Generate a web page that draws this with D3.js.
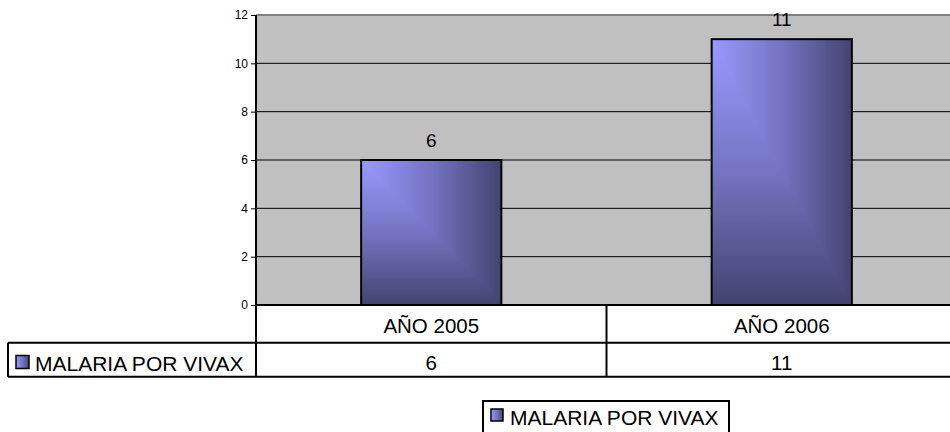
<!DOCTYPE html>
<html>
<head>
<meta charset="utf-8">
<script src="https://cdn.jsdelivr.net/npm/d3@7"></script>
<style>
  body { margin: 0; background: #fff; }
  svg { display: block; font-family: Arial, "Liberation Sans", sans-serif; }
</style>
</head>
<body>
<div id="chart"></div>
<script>
let categories = ["AÑO 2005", "AÑO 2006"];
let seriesName = "MALARIA POR VIVAX";
let values = [6, 11];
let yTicks = [0, 2, 4, 6, 8, 10, 12];

let W = 950, H = 432;
let plotLeft = 256, plotRight = 957, plotTop = 15, plotBottom = 305;
let row1 = 342.7, row2 = 376.7, tableLeft = 8;

let svg = d3.select("#chart")
  .append("svg")
    .attr("width", W)
    .attr("height", H);

// gradients, light corner top-left
let defs = svg.append("defs");
let stops = [[0, "#9999ff"], [0.5, "#7474c2"], [1, "#434370"]];
let gh = defs.append("linearGradient").attr("id", "gh")
    .attr("x1", 0).attr("y1", 0).attr("x2", 1).attr("y2", 0);
let gv = defs.append("linearGradient").attr("id", "gv")
    .attr("x1", 0).attr("y1", 0).attr("x2", 0).attr("y2", 1);
[gh, gv].forEach(function(g) {
    stops.forEach(function(s) {
        g.append("stop").attr("offset", s[0]).attr("stop-color", s[1]);
    });
});

let x = d3.scaleBand()
    .domain(categories)
    .range([plotLeft, plotRight])
    .paddingInner(0.6)
    .paddingOuter(0.3);
let xCell = d3.scaleBand().domain(categories).range([plotLeft, plotRight]);

let y = d3.scaleLinear().domain([0, 12]).range([plotBottom, plotTop]);

// plot background
svg.append("rect")
    .attr("x", plotLeft).attr("y", plotTop)
    .attr("width", plotRight - plotLeft).attr("height", plotBottom - plotTop)
    .attr("fill", "#c0c0c0");

// gridlines
svg.selectAll("line.grid")
    .data(yTicks.filter(function(d) { return d > 0 && d < 12; }))
  .enter().append("line")
    .attr("class", "grid")
    .attr("x1", plotLeft).attr("x2", plotRight)
    .attr("y1", function(d) { return y(d); })
    .attr("y2", function(d) { return y(d); })
    .attr("stroke", "#000")
    .attr("stroke-width", 1);

svg.append("line")
    .attr("x1", plotLeft).attr("x2", plotRight)
    .attr("y1", y(12)).attr("y2", y(12))
    .attr("stroke", "#808080").attr("stroke-width", 2);

// bars
let bars = svg.selectAll("g.bar")
    .data(values)
  .enter().append("g")
    .attr("class", "bar")
    .attr("transform", function(d, i) {
        return "translate(" + x(categories[i]) + "," + y(d) + ")";
    });
bars.append("rect")
    .attr("width", x.bandwidth())
    .attr("height", function(d) { return y(0) - y(d); })
    .attr("fill", "url(#gh)");
bars.append("path")
    .attr("d", function(d) {
        let w = x.bandwidth(), h = y(0) - y(d);
        return "M0,0L0," + h + "L" + w + "," + h + "Z";
    })
    .attr("fill", "url(#gv)");
bars.append("rect")
    .attr("width", x.bandwidth())
    .attr("height", function(d) { return y(0) - y(d); })
    .attr("fill", "none")
    .attr("stroke", "#000")
    .attr("stroke-width", 2);

// value labels
svg.selectAll("text.val")
    .data(values)
  .enter().append("text")
    .attr("class", "val")
    .attr("x", function(d, i) { return x(categories[i]) + x.bandwidth() / 2; })
    .attr("y", function(d) { return y(d) - 13.5; })
    .attr("text-anchor", "middle")
    .attr("font-size", 19)
    .text(function(d) { return d; });

// y axis
let yAxis = d3.axisLeft(y).tickValues(yTicks).tickSize(5).tickPadding(3);
let ya = svg.append("g")
    .attr("transform", "translate(" + plotLeft + ",0)")
    .call(yAxis);
ya.select(".domain").remove();
ya.selectAll(".tick line").attr("stroke", "#000");
ya.selectAll(".tick text").attr("font-size", 12).attr("fill", "#000")
    .attr("font-family", "Arial, 'Liberation Sans', sans-serif");

// table lines
let lines = [
    [plotLeft, plotBottom, plotRight, plotBottom],
    [tableLeft, row1, plotRight, row1],
    [tableLeft, row2, plotRight, row2],
    [plotLeft, plotTop, plotLeft, row2],
    [tableLeft, row1, tableLeft, row2]
];
categories.slice(1).forEach(function(c) {
    lines.push([xCell(c), plotBottom, xCell(c), row2]);
});
svg.selectAll("line.tbl")
    .data(lines)
  .enter().append("line")
    .attr("class", "tbl")
    .attr("x1", function(d) { return d[0]; })
    .attr("y1", function(d) { return d[1]; })
    .attr("x2", function(d) { return d[2]; })
    .attr("y2", function(d) { return d[3]; })
    .attr("stroke", "#000")
    .attr("stroke-width", 2);

// category row
svg.selectAll("text.cat")
    .data(categories)
  .enter().append("text")
    .attr("class", "cat")
    .attr("x", function(d) { return xCell(d) + xCell.bandwidth() / 2; })
    .attr("y", 333)
    .attr("text-anchor", "middle")
    .attr("font-size", 20.5)
    .text(function(d) { return d; });

// value row
svg.selectAll("text.cell")
    .data(values)
  .enter().append("text")
    .attr("class", "cell")
    .attr("x", function(d, i) { return xCell(categories[i]) + xCell.bandwidth() / 2; })
    .attr("y", 370)
    .attr("text-anchor", "middle")
    .attr("font-size", 20.5)
    .text(function(d) { return d; });

let marker = function(g, mx, my, s) {
    g.append("rect").attr("x", mx).attr("y", my).attr("width", s).attr("height", s)
        .attr("fill", "url(#gh)");
    g.append("rect").attr("x", mx).attr("y", my).attr("width", s).attr("height", s)
        .attr("fill", "none").attr("stroke", "#000").attr("stroke-width", 1.5);
};

// series label in table
marker(svg, 16, 355.5, 13);
svg.append("text")
    .attr("x", 35).attr("y", 371)
    .attr("font-size", 21)
    .text(seriesName);

// legend
svg.append("rect")
    .attr("x", 483).attr("y", 401)
    .attr("width", 246).attr("height", 45)
    .attr("fill", "#fff")
    .attr("stroke", "#000")
    .attr("stroke-width", 2);
marker(svg, 491, 409, 12);
svg.append("text")
    .attr("x", 510).attr("y", 425)
    .attr("font-size", 21)
    .text(seriesName);
</script>
</body>
</html>
